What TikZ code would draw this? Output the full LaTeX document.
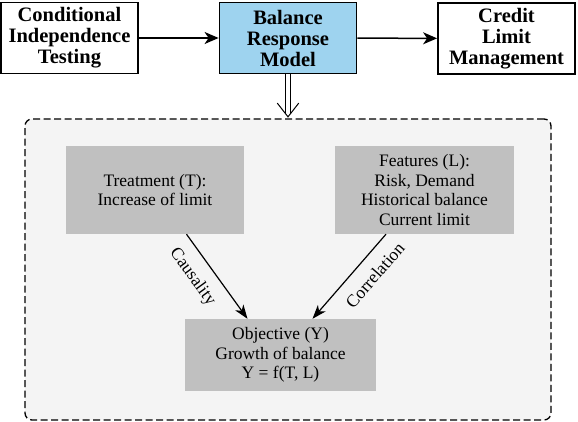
\documentclass[tikz,border=0pt]{standalone}
\usepackage{fontspec}
\setmainfont{Liberation Serif}
\usetikzlibrary{arrows.meta,calc}
\definecolor{boxblue}{HTML}{9ED3EF}
\definecolor{innergray}{HTML}{C0C0C0}
\definecolor{panelgray}{HTML}{F4F4F4}
\begin{document}
\begin{tikzpicture}[x=1pt,y=-1pt,
  topbox/.style={draw=black, line width=1.8pt, minimum width=137pt, minimum height=71pt,
    inner sep=0pt, align=center, font=\fontsize{20.5}{21}\selectfont\bfseries},
  graybox/.style={fill=innergray, inner sep=0pt, align=center,
    font=\fontsize{17.5}{19.5}\selectfont},
  toparrow/.style={line width=1.5pt, -{Stealth[length=14pt,width=12pt,inset=4pt]}},
  innerarrow/.style={line width=1.2pt, -{Stealth[length=14pt,width=10pt,inset=4pt]}},
  hollowarrow/.style={line width=1pt, line join=miter},
  panel/.style={draw=black, line width=1.3pt, dash pattern=on 7pt off 3.5pt,
    rounded corners=7pt, fill=panelgray, minimum width=526pt, minimum height=301pt, inner sep=0pt},
  slabel/.style={font=\fontsize{17.5}{19.5}\selectfont, inner sep=0pt}
]
\useasboundingbox (0,0) rectangle (578,422);

\node[panel] (panel) at (288,269.5) {};

\node[topbox] (cit) at (69.5,38) {Conditional\\Independence\\Testing};
\node[topbox, fill=boxblue] (brm) at (288,38) {Balance\\Response\\Model};
\node[topbox] (clm) at (506.5,38.5) {Credit\\Limit\\Management};

\draw[toparrow] (cit) -- (brm);
\draw[toparrow] (brm) -- (clm);

% hollow double arrow from the model down to the panel
\coordinate (dtip) at ($(brm.south |- panel.north)+(0,-1.5)$);
\draw[hollowarrow] ($(brm.south)+(-2.3,0)$) -- ($(dtip)+(-2.3,-3)$);
\draw[hollowarrow] ($(brm.south)+(2.3,0)$) -- ($(dtip)+(2.3,-3)$);
\draw[hollowarrow] ($(dtip)+(-10.7,-13.7)$) -- (dtip) -- ($(dtip)+(10.7,-13.7)$);

\node[graybox, minimum width=178pt, minimum height=88pt] (T) at (155,190) {Treatment (T):\\Increase of limit};
\node[graybox, minimum width=179pt, minimum height=88pt] (L) at (424.5,190) {Features (L):\\Risk, Demand\\Historical balance\\Current limit};
\node[graybox, minimum width=191pt, minimum height=72pt] (Y) at (280.5,355) {Objective (Y)\\Growth of balance\\Y = f(T, L)};

\draw[innerarrow] ([xshift=31.5pt]T.south) -- ([xshift=-33pt]Y.north);
\draw[innerarrow] ([xshift=-38.5pt]L.south) -- ([xshift=32pt]Y.north);

\node[slabel, rotate=-54] (caus) at (192.5,277) {Causality};
\node[slabel, rotate=49] (corr) at (375,275) {Correlation};
\end{tikzpicture}
\end{document}
